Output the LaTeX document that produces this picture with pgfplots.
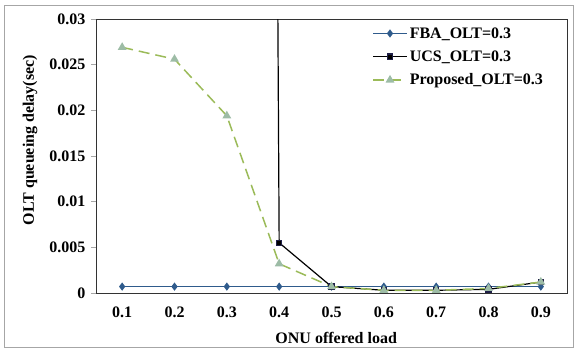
\documentclass[border=0pt]{standalone}
\usepackage{pgfplots}
\pgfplotsset{compat=1.18}
\usepackage{fontspec}
\setmainfont{Liberation Serif}
\definecolor{fbablue}{HTML}{2F5B8C}
\definecolor{propgreen}{HTML}{9BBB59}
\definecolor{propfill}{HTML}{9DBCA6}
\begin{document}
\begin{tikzpicture}[x=1pt,y=1pt]
\begin{axis}[
  at={(0,0)}, anchor=origin,
  scale only axis, width=471pt, height=274pt,
  xmin=0.05, xmax=0.95, ymin=0, ymax=0.03,
  scaled y ticks=false, scaled x ticks=false,
  xtick={0.1,0.2,0.3,0.4,0.5,0.6,0.7,0.8,0.9},
  xticklabels={0.1,0.2,0.3,0.4,0.5,0.6,0.7,0.8,0.9},
  ytick={0,0.005,0.01,0.015,0.02,0.025,0.03},
  yticklabels={0,0.005,0.01,0.015,0.02,0.025,0.03},
  tick style={draw=gray!70, thin},
  xtick style={draw=none},
  ytick pos=left, tick align=outside, major tick length=5pt,
  axis line style={draw=black!80, thin},
  ticklabel style={font=\fontsize{16}{18}\selectfont\bfseries},
  xticklabel style={yshift=-5pt},
  yticklabel style={xshift=-2pt},
  xlabel={ONU offered load},
  ylabel={OLT queueing delay(sec)},
  label style={font=\fontsize{16}{18}\selectfont\bfseries},
  xlabel style={at={(axis description cs:0.51,-0.163)}, anchor=center},
  ylabel style={at={(axis description cs:-0.14,0.558)}, anchor=center},
  legend style={at={(rel axis cs:0.584,0.981)}, anchor=north west, draw=none, fill=none,
    font=\fontsize{16}{18}\selectfont\bfseries, row sep=7pt, inner sep=1pt},
  legend cell align=left,
  legend image code/.code={\draw[mark repeat=2,mark phase=2] plot coordinates {(0pt,0pt) (17pt,0pt) (34pt,0pt)};},
  clip=true,
]
\addplot[fbablue, line width=1.4pt, mark=diamond*, mark size=3pt, mark options={fill=fbablue}]
  coordinates {(0.1,0.0007) (0.2,0.0007) (0.3,0.0007) (0.4,0.0007) (0.5,0.0007) (0.6,0.0007) (0.7,0.0007) (0.8,0.0007) (0.9,0.0007)};
\addlegendentry{FBA\_OLT=0.3}
\addplot[black, line width=1.2pt, mark=square*, mark size=2.6pt, mark options={fill=black, draw=gray!60!blue!40!black}]
  coordinates {(0.1,1.0) (0.2,1.0) (0.3,1.0) (0.4,0.0055) (0.5,0.0007) (0.6,0.0003) (0.7,0.0003) (0.8,0.0004) (0.9,0.0012)};
\addlegendentry{UCS\_OLT=0.3}
\addplot[propgreen, line width=1.5pt, dash pattern=on 11pt off 6pt, mark=triangle*, mark size=3.6pt, mark options={solid, fill=propfill, draw=propfill}]
  coordinates {(0.1,0.0269) (0.2,0.0256) (0.3,0.0194) (0.4,0.0032) (0.5,0.0007) (0.6,0.0003) (0.7,0.0003) (0.8,0.0005) (0.9,0.0012)};
\addlegendentry{Proposed\_OLT=0.3}
\end{axis}
\draw[gray!70, line width=0.8pt] (-92,-54) rectangle (477,288);
\useasboundingbox (-96,-56) rectangle (479,293);
\end{tikzpicture}
\end{document}
